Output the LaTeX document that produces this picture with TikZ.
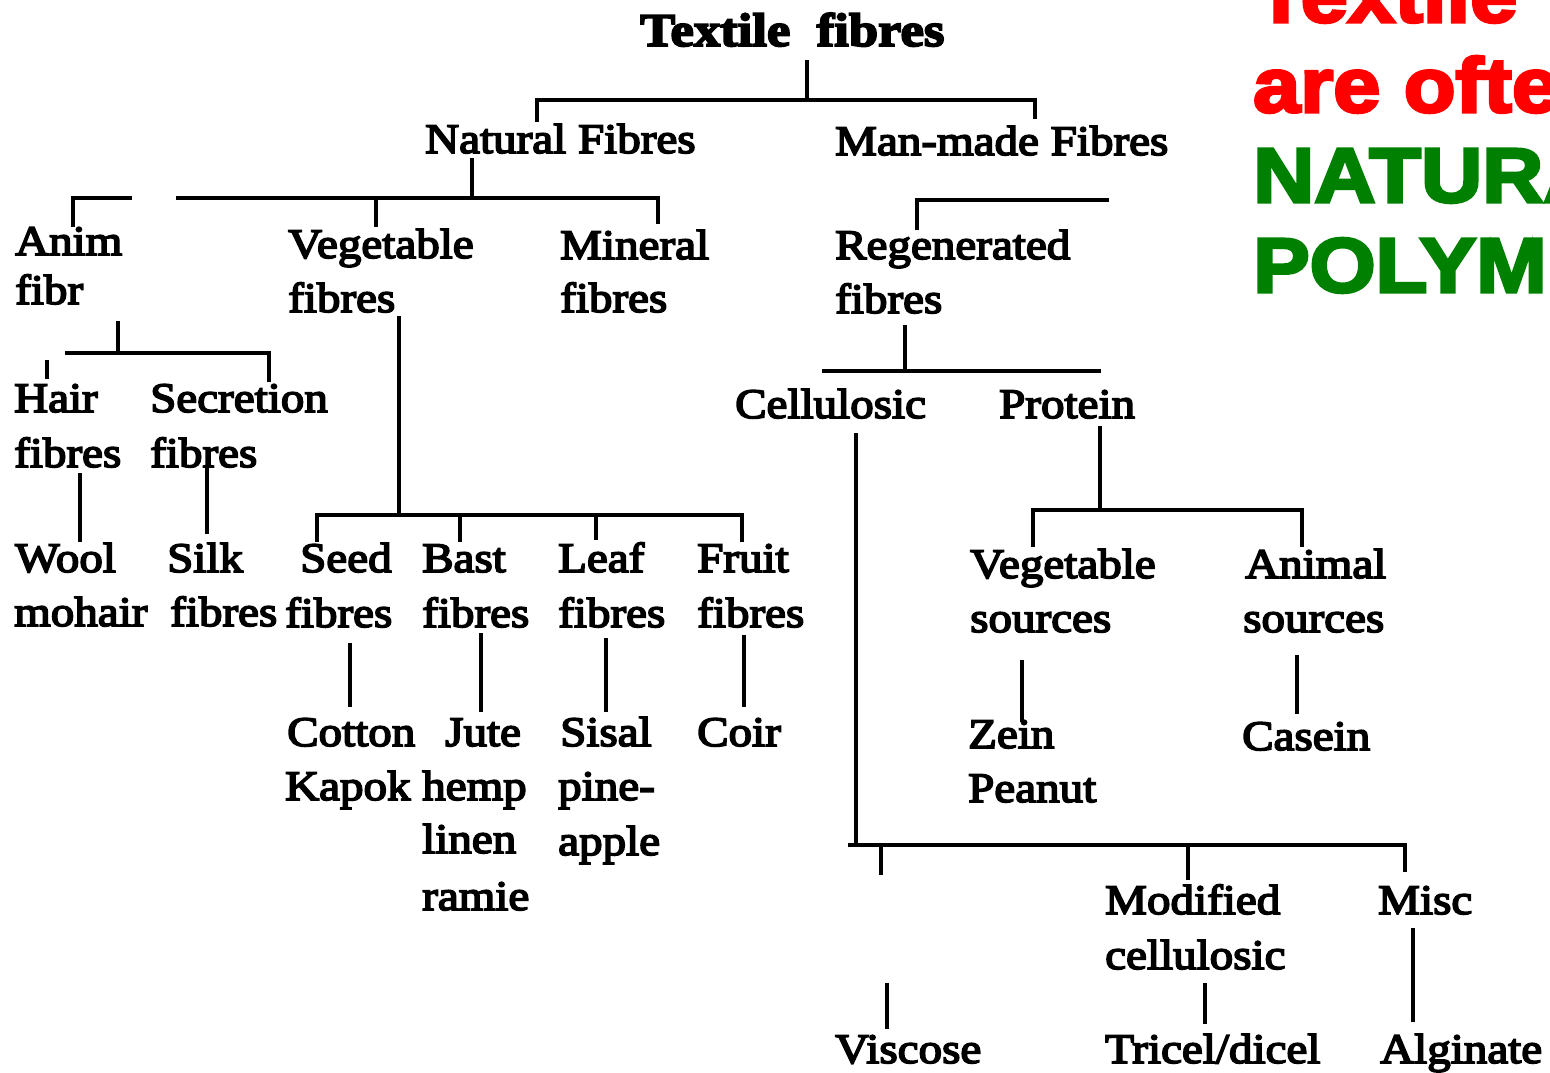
\documentclass[tikz,border=0pt]{standalone}
\usepackage{fontspec}
\newfontfamily\scanfont[FakeStretch=1.12,FakeBold=4]{Liberation Serif}
\newfontfamily\slidefont[FakeStretch=1.1,FakeBold=4]{Liberation Sans}
\definecolor{slidered}{RGB}{255,0,0}
\definecolor{slidegreen}{RGB}{0,128,0}
\begin{document}
\begin{tikzpicture}[x=1pt,y=-1pt,
  lbl/.style={anchor=base west,inner sep=0pt,font=\scanfont\fontsize{42}{50}\selectfont},
  ttl/.style={anchor=base west,inner sep=0pt,font=\scanfont\bfseries\fontsize{47}{54}\selectfont},
  big/.style={anchor=base west,inner sep=0pt,font=\slidefont\bfseries\fontsize{77}{85}\selectfont},
  ln/.style={line width=4.2pt,line cap=rect}]
\useasboundingbox (0,0) rectangle (1550,1072);
\clip (0,0) rectangle (1550,1072);
\fill[white] (0,0) rectangle (1550,1072);

% ---- texts ----
\node[ttl] (title) at (640,46) {Textile\ \ fibres};
\node[lbl] (nat) at (425,153) {Natural Fibres};
\node[lbl] (man) at (835,155) {Man-made Fibres};
\node[lbl] (anim1) at (15,255) {Anim};
\node[lbl] (anim2) at (15,304) {fibr};
\node[lbl] (veg1) at (288,258) {Vegetable};
\node[lbl] (veg2) at (288,312) {fibres};
\node[lbl] (min1) at (560,259) {Mineral};
\node[lbl] (min2) at (560,312) {fibres};
\node[lbl] (reg1) at (835,259) {Regenerated};
\node[lbl] (reg2) at (835,313) {fibres};
\node[lbl] (hair1) at (14,412) {Hair};
\node[lbl] (hair2) at (14,467) {fibres};
\node[lbl] (sec1) at (150,412) {Secretion};
\node[lbl] (sec2) at (150,467) {fibres};
\node[lbl] (cel) at (735,418) {Cellulosic};
\node[lbl] (pro) at (999,418) {Protein};
\node[lbl] (wool1) at (15,572) {Wool};
\node[lbl] (wool2) at (14,626) {mohair};
\node[lbl] (silk1) at (167,572) {Silk};
\node[lbl] (silk2) at (170,626) {fibres};
\node[lbl] (seed1) at (300,572) {Seed};
\node[lbl] (seed2) at (285,627) {fibres};
\node[lbl] (bast1) at (422,572) {Bast};
\node[lbl] (bast2) at (422,627) {fibres};
\node[lbl] (leaf1) at (558,572) {Leaf};
\node[lbl] (leaf2) at (558,627) {fibres};
\node[lbl] (fruit1) at (697,572) {Fruit};
\node[lbl] (fruit2) at (697,627) {fibres};
\node[lbl] (vs1) at (970,578) {Vegetable};
\node[lbl] (vs2) at (970,632) {sources};
\node[lbl] (as1) at (1245,578) {Animal};
\node[lbl] (as2) at (1243,632) {sources};
\node[lbl] (cot) at (287,746) {Cotton};
\node[lbl] (kap) at (285,800) {Kapok};
\node[lbl] (jute) at (445,746) {Jute};
\node[lbl] (hemp) at (422,800) {hemp};
\node[lbl] (linen) at (422,853) {linen};
\node[lbl] (ramie) at (422,910) {ramie};
\node[lbl] (sisal) at (560,746) {Sisal};
\node[lbl] (pine) at (558,800) {pine-};
\node[lbl] (apple) at (558,855) {apple};
\node[lbl] (coir) at (697,746) {Coir};
\node[lbl] (zein) at (968,748) {Zein};
\node[lbl] (peanut) at (968,802) {Peanut};
\node[lbl] (casein) at (1242,750) {Casein};
\node[lbl] (mod1) at (1105,914) {Modified};
\node[lbl] (mod2) at (1105,969) {cellulosic};
\node[lbl] (misc) at (1378,914) {Misc};
\node[lbl] (visc) at (835,1063) {Viscose};
\node[lbl] (tricel) at (1105,1063) {Tricel/dicel};
\node[lbl] (alg) at (1380,1063) {Alginate};

\node[big,text=slidered] (r1) at (1255,22) {Textile};
\node[big,text=slidered] (r2) at (1253,112) {are ofte};
\node[big,text=slidegreen] (g1) at (1253,202) {NATURA};
\node[big,text=slidegreen] (g2) at (1253,292) {POLYME};

% ---- connector end points ----
\coordinate (tS) at (807,62);   \coordinate (tJ) at (807,100);
\coordinate (natT) at (537,120); \coordinate (manT) at (1035,117);
\coordinate (natS) at (472,160); \coordinate (natJ) at (472,198);
\coordinate (nbL) at (178,198);  \coordinate (minT) at (658,222);
\coordinate (vegT) at (376,225); \coordinate (vegJ) at (376,198);
\coordinate (animT) at (73,225); \coordinate (frR) at (130,198);
\coordinate (regT) at (917,228); \coordinate (mbR) at (1107,200);
\coordinate (animS) at (118,323); \coordinate (animJ) at (118,353);
\coordinate (abL) at (67,353);   \coordinate (secT) at (269,380);
\coordinate (hairA) at (47,362); \coordinate (hairB) at (47,377);
\coordinate (hairS) at (80,475); \coordinate (woolT) at (80,540);
\coordinate (secS) at (207,470); \coordinate (silkT) at (207,532);
\coordinate (vegS) at (399,318); \coordinate (vegJ2) at (399,515);
\coordinate (seedT) at (317,540); \coordinate (fruitT) at (742,540);
\coordinate (bastT) at (460,540); \coordinate (bastJ) at (460,515);
\coordinate (leafT) at (596,538); \coordinate (leafJ) at (596,515);
\coordinate (seedS) at (350,645); \coordinate (cotT) at (350,705);
\coordinate (bastS) at (481,635); \coordinate (juteT) at (481,710);
\coordinate (leafS) at (606,640); \coordinate (sisT) at (606,710);
\coordinate (fruitS) at (744,637); \coordinate (coirT) at (744,705);
\coordinate (regS) at (905,327); \coordinate (regJ) at (905,371);
\coordinate (rbL) at (824,371);  \coordinate (rbR) at (1099,371);
\coordinate (celS) at (856,435); \coordinate (celJ) at (856,845);
\coordinate (cbL) at (850,845);  \coordinate (miscT) at (1405,870);
\coordinate (viscT) at (881,873); \coordinate (viscJ) at (881,845);
\coordinate (modT) at (1188,878); \coordinate (modJ) at (1188,845);
\coordinate (proS) at (1100,428); \coordinate (proJ) at (1100,510);
\coordinate (vsT) at (1033,545); \coordinate (asT) at (1302,545);
\coordinate (vsS) at (1022,662); \coordinate (zeinT) at (1022,720);
\coordinate (asS) at (1297,657); \coordinate (casT) at (1297,712);
\coordinate (viscA) at (887,985); \coordinate (viscB) at (887,1027);
\coordinate (modS) at (1205,985); \coordinate (triT) at (1205,1022);
\coordinate (miscS) at (1413,930); \coordinate (algT) at (1413,1020);

% ---- connectors ----
\draw[ln] (tS) -- (tJ);
\draw[ln] (natT) |- (tJ) -| (manT);
\draw[ln] (natS) -- (natJ);
\draw[ln] (nbL) -| (minT);
\draw[ln] (vegJ) -- (vegT);
\draw[ln] (animT) |- (frR);
\draw[ln] (regT) |- (mbR);
\draw[ln] (animS) -- (animJ);
\draw[ln] (abL) -| (secT);
\draw[ln] (hairA) -- (hairB);
\draw[ln] (hairS) -- (woolT);
\draw[ln] (secS) -- (silkT);
\draw[ln] (vegS) -- (vegJ2);
\draw[ln] (seedT) |- (vegJ2) -| (fruitT);
\draw[ln] (bastJ) -- (bastT);
\draw[ln] (leafJ) -- (leafT);
\draw[ln] (seedS) -- (cotT);
\draw[ln] (bastS) -- (juteT);
\draw[ln] (leafS) -- (sisT);
\draw[ln] (fruitS) -- (coirT);
\draw[ln] (regS) -- (regJ);
\draw[ln] (rbL) -- (rbR);
\draw[ln] (celS) -- (celJ);
\draw[ln] (cbL) -| (miscT);
\draw[ln] (viscJ) -- (viscT);
\draw[ln] (modJ) -- (modT);
\draw[ln] (proS) -- (proJ);
\draw[ln] (vsT) |- (proJ) -| (asT);
\draw[ln] (vsS) -- (zeinT);
\draw[ln] (asS) -- (casT);
\draw[ln] (viscA) -- (viscB);
\draw[ln] (modS) -- (triT);
\draw[ln] (miscS) -- (algT);
\end{tikzpicture}
\end{document}
